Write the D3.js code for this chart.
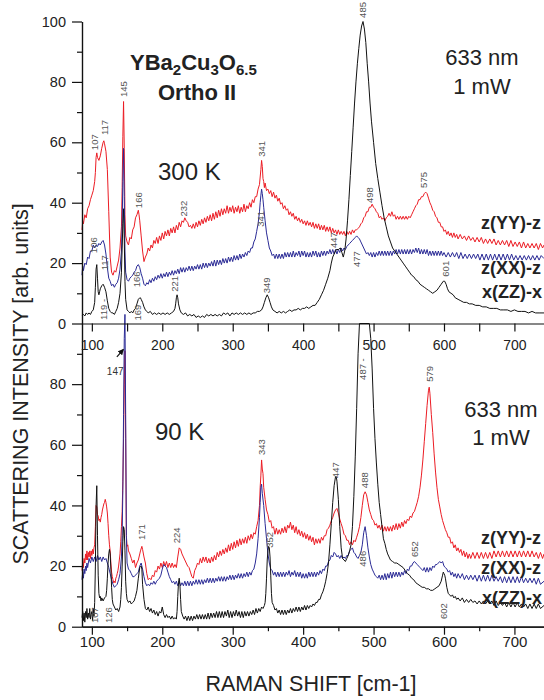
<!DOCTYPE html>
<html>
<head>
<meta charset="utf-8">
<script src="https://cdn.jsdelivr.net/npm/d3@7"></script>
<style>
  body { margin: 0; background: #fff; }
  svg { display: block; font-family: "Liberation Sans", Arial, sans-serif; }
</style>
</head>
<body>
<div id="chart"></div>
<script>
// ---- data: [raman shift cm-1, intensity] ----
// 300 K panel
const top300YY = [[86,31],[87,34],[88,33],[90,36],[92,35],[94,38],[96,39],[98,41],[100,42.5],[102,44],[104,47],[105,50],[106,55],[107,56.5],[108,55],[110,54],[112,55.5],[114,58],[116,60],[117,60.5],[118,59.5],[120,57],[122,51],[124,37],[126,22],[128,17],[130,16],[132,17.5],[134,17],[136,19],[138,21],[140,25],[142,32],[143,45],[144,62],[145,73.5],[146,58],[147,36],[148,29],[150,27],[152,26],[154,28.5],[156,28],[158,31],[160,32],[162,35],[164,36],[166,37.5],[167,36],[168,34],[170,29],[172,24],[174,20.5],[176,22],[178,23],[180,25],[182,24],[184,26],[186,25],[188,27.5],[190,26.5],[192,28.5],[194,26.5],[196,29],[198,27.5],[200,30],[202,28],[204,30.5],[206,29],[208,31],[210,29],[212,31.5],[214,30],[216,32],[218,30],[220,32.5],[222,31],[224,33.5],[226,32],[228,34],[230,33.5],[232,35],[234,34],[236,33.5],[238,32],[240,32.5],[242,31.5],[244,33],[246,31.5],[248,33.5],[250,32],[252,34],[254,32.5],[256,34.5],[258,33],[260,35],[262,33.5],[264,35.5],[266,34],[268,36],[270,34],[272,36.5],[274,34.5],[276,37],[278,35],[280,37.5],[282,35.5],[284,38],[286,36],[288,38],[290,36.5],[292,39],[294,36.5],[296,38.5],[298,37],[300,39],[302,36.5],[304,38.5],[306,37],[308,39],[310,36.5],[312,38.5],[314,37],[316,39.5],[318,37],[320,39],[322,38],[324,40],[326,38.5],[328,41],[330,40],[332,42],[334,42],[336,44.5],[338,46],[339,48.5],[340,51],[341,54],[342,52],[343,48],[344,47],[345,45],[346,46.5],[348,44],[350,44.5],[352,43],[354,44],[356,42],[358,43.5],[360,41.5],[362,42.5],[364,40.5],[366,41.5],[368,39.5],[370,40],[372,38],[374,39],[376,37.5],[378,38],[380,36],[382,37],[384,35.5],[386,36.5],[388,34.5],[390,35.5],[392,34],[394,35],[396,33.5],[398,34.5],[400,33],[402,34],[404,32.5],[406,34],[408,32.5],[410,33.5],[412,32],[414,33.5],[416,31.5],[418,33],[420,31.5],[422,33],[424,31],[426,32.5],[428,31],[430,32.5],[432,30.5],[434,32],[436,30.5],[438,32],[440,30],[442,31.5],[444,30],[446,31],[448,29.5],[450,31],[452,29.5],[454,30.5],[456,29.5],[458,30.5],[460,29],[462,30.5],[464,29.5],[466,30.5],[468,29.5],[470,31],[472,30],[474,31],[476,31],[478,31.5],[480,32],[482,33],[484,33.5],[486,35],[488,35.5],[490,37],[492,37],[494,38.5],[496,38.5],[498,39.5],[500,38.5],[502,38],[504,37],[506,36.5],[508,35],[510,35.5],[512,34.5],[514,35],[516,34],[518,35],[520,35.5],[522,36.5],[524,35.5],[526,37],[528,35.5],[530,36],[532,34.5],[534,35.5],[536,34.5],[538,35.5],[540,34.5],[542,35.5],[544,34.5],[546,35.5],[548,34.5],[550,35.5],[552,35],[554,36],[556,37],[558,38],[560,39],[562,39.5],[564,41],[566,41],[568,42],[570,42],[572,43],[574,43.5],[576,43],[578,41.5],[580,40],[582,39],[584,37.5],[586,37],[588,35.5],[590,35],[592,33.5],[594,33.5],[596,32],[598,32],[600,30.5],[602,31],[604,29.5],[606,30.5],[608,29],[610,30],[612,28.5],[614,30],[616,28.5],[618,29.5],[620,28],[623,29.5],[626,28],[629,29],[632,27.5],[635,29],[638,27.5],[641,28.5],[644,27],[647,28.5],[650,27],[653,28.5],[656,26.5],[659,28],[662,26.5],[665,28],[668,26.5],[671,28],[674,26],[677,27.5],[680,26],[683,27.5],[686,26],[689,27.5],[692,25.5],[695,27.5],[698,25.5],[701,27],[704,25.5],[707,27],[710,25],[713,27],[716,25],[719,26.5],[722,25],[725,26.5],[728,25],[731,26.5],[734,24.5],[737,26.5],[740,25],[742,26]];

const top300XX = [[86,16],[87,19],[88,17.5],[90,20],[92,19.5],[94,22],[96,21.5],[98,24],[100,24],[102,26],[104,25],[106,26],[108,25.5],[110,26.5],[112,26],[114,27],[116,27.5],[118,26],[120,23],[122,18.5],[124,15],[126,14],[128,12.5],[130,13],[132,12],[134,13],[136,13.5],[138,15],[140,18],[142,24],[143,33],[144,47],[145,58],[146,42],[147,24],[148,17],[150,14.5],[152,14],[154,15],[156,15.5],[158,16],[160,17],[162,17.5],[164,19],[166,19.5],[168,18.5],[170,16.5],[172,15],[174,13],[176,12.5],[178,13.5],[180,13],[182,14.5],[184,13.5],[186,15],[188,14],[190,15.5],[192,14.5],[194,16],[196,15],[198,16.5],[200,15],[202,16.5],[204,15.5],[206,17],[208,15.5],[210,17],[212,16],[214,17.5],[216,16],[218,17.5],[220,16.5],[222,18],[224,16.5],[226,18.5],[228,17],[230,18.5],[232,17],[234,18.5],[236,17.5],[238,19],[240,17.5],[242,19],[244,17.5],[246,19],[248,18],[250,19.5],[252,18],[254,19.5],[256,18],[258,20],[260,18.5],[262,20],[264,18.5],[266,20],[268,19],[270,20.5],[272,19],[274,21],[276,19],[278,21],[280,19.5],[282,21],[284,19.5],[286,21.5],[288,20],[290,21.5],[292,20],[294,22],[296,20.5],[298,22],[300,20.5],[302,22.5],[304,21],[306,22.5],[308,21],[310,23],[312,21.5],[314,23],[316,22],[318,23.5],[320,22.5],[322,24],[324,23.5],[326,25],[328,25],[330,27],[332,28],[334,30.5],[336,33],[338,37],[339,40],[340,42.5],[341,44.5],[342,43],[343,41],[344,38.5],[346,34],[348,30],[350,27.5],[352,25],[354,24],[356,22.5],[358,23],[360,21.5],[362,23],[364,21.5],[366,23],[368,21.5],[370,23],[372,21.5],[374,23.5],[376,22],[378,23.5],[380,22],[382,23.5],[384,22],[386,24],[388,22],[390,23.5],[392,22.5],[394,24],[396,22],[398,24],[400,22.5],[402,24],[404,22],[406,23.5],[408,22],[410,23.5],[412,22],[414,24],[416,22.5],[418,24],[420,22],[422,23.5],[424,22],[426,24],[428,22.5],[430,24],[432,22.5],[434,24],[436,23],[438,24.5],[440,23],[442,24.5],[444,23],[446,24.5],[448,23],[450,24.5],[452,23.5],[454,25],[456,24],[458,25],[460,24.5],[462,25.5],[464,26],[466,26.5],[468,27],[470,27.5],[472,28],[474,28.5],[476,29],[478,28.5],[480,28],[482,27],[484,26],[486,25],[488,24],[490,23],[492,23.5],[494,22.5],[496,23.5],[498,22],[500,23.5],[502,22],[504,23.5],[506,22.5],[508,24],[510,22.5],[512,24],[514,22.5],[516,24],[518,22.5],[520,24],[522,22.5],[524,24],[526,22.5],[528,24],[530,23],[532,24.5],[534,23],[536,24.5],[538,23],[540,24.5],[542,23],[544,24.5],[546,23],[548,24.5],[550,23],[552,24.5],[554,23],[556,24.5],[558,23.5],[560,25],[562,23.5],[564,25],[566,23],[568,24.5],[570,23],[572,24.5],[574,23],[576,24.5],[578,22.5],[580,24],[582,22.5],[584,24],[586,22.5],[588,24],[590,22.5],[592,24],[594,22.5],[596,24],[598,22.5],[600,23.5],[603,22],[606,23.5],[609,22],[612,23.5],[615,22],[618,23.5],[621,21.5],[624,23.5],[627,21.5],[630,23],[633,21.5],[636,23],[639,21.5],[642,23],[645,21.5],[648,23],[651,21],[654,23],[657,21],[660,23],[663,21],[666,23],[669,21],[672,23],[675,21],[678,23],[681,21],[684,23],[687,21],[690,23],[693,21],[696,23],[699,21],[702,22.5],[705,21],[708,22.5],[711,21],[714,22.5],[717,21],[720,22.5],[723,21],[726,22.5],[729,21],[732,22.5],[735,21],[738,22.5],[742,21.5]];

const top300ZZ = [[86,2.5],[88,3],[90,2.5],[92,3.5],[94,3],[96,3.5],[98,3],[100,4],[102,4.5],[104,7],[105,12],[106,18],[107,19.5],[108,15],[109,10.5],[110,9.5],[111,10.5],[112,11.5],[114,12.5],[116,13],[118,12],[120,10.5],[122,7.5],[124,5],[126,4],[128,3.5],[130,3.5],[132,3],[134,4],[136,5],[138,7],[140,10],[142,17],[143,25],[144,33],[145,38],[146,28],[147,14],[148,8],[150,4.5],[152,4],[154,3.5],[156,4],[158,3.5],[160,4.5],[162,5],[164,6.5],[166,8],[168,8.5],[169,8.5],[170,8],[172,7],[174,5.5],[176,4.5],[178,4],[180,3.5],[183,4],[186,3],[189,3.5],[192,3],[195,3.5],[198,3],[201,3.5],[204,3],[207,3.5],[210,3],[213,3.5],[216,4],[218,5],[219,6.5],[220,8.5],[221,9.5],[222,8.5],[223,6.5],[225,4.5],[227,3.5],[230,3],[233,3.5],[236,2.5],[239,3],[242,2.5],[245,3],[248,2],[251,2.5],[254,2],[257,2.5],[260,2],[263,3],[266,2.5],[269,3],[272,2.5],[275,3],[278,2.5],[281,3],[284,2.5],[287,3.5],[290,3],[293,3.5],[296,2.5],[299,3.5],[302,3],[305,3.5],[308,3],[311,3.5],[314,3],[317,3.5],[320,3],[323,3.5],[326,3],[329,3.5],[332,3.5],[335,4],[338,4],[341,4.5],[343,5.5],[345,7],[347,8.5],[349,9.5],[351,8.5],[353,7],[355,5.5],[357,4.5],[360,4],[363,3.5],[366,4],[369,3.5],[372,4],[375,3.5],[378,4],[381,4.5],[384,4],[387,4.5],[390,4.5],[393,5],[396,4.5],[399,5],[402,5],[405,5.5],[408,5],[411,5.5],[414,6],[417,6],[420,7],[423,8],[426,9.5],[429,11],[432,13],[435,15],[438,17.5],[440,20],[442,22],[444,23],[447,24.5],[450,24.5],[453,25],[455,23.5],[457,22],[459,24],[461,28],[463,34],[465,41],[467,49],[469,57],[471,65],[473,73],[475,80],[477,86],[479,91],[481,95.5],[483,98.5],[485,100],[487,97.5],[489,93],[491,86],[493,80],[495,73],[497,67],[500,60],[503,53],[506,48],[509,43.5],[512,39],[515,35],[518,32],[521,29],[524,27],[527,25],[530,24],[533,23],[536,22],[539,21],[542,20],[545,19],[548,18],[551,17],[554,16],[557,15.5],[560,14.5],[563,14],[566,13],[569,12.5],[572,12],[575,11.5],[578,11],[581,10.5],[584,10],[587,10.5],[590,11],[593,12],[596,13],[599,14],[601,14],[603,13],[605,11.5],[607,10.5],[610,10],[613,9.5],[616,8.5],[620,8],[624,7.5],[628,7],[632,7],[636,6.5],[640,6.5],[645,6],[650,6],[655,5.5],[660,5.5],[665,5],[670,5],[675,5],[680,4.5],[685,4.5],[690,4.5],[695,4],[700,4.5],[705,4],[710,4],[715,4],[720,3.5],[725,4],[730,3.5],[735,3.5],[742,3.5]];

// 90 K panel
const bot90YY = [[86,18.5],[87,21.5],[88,19.5],[89,22.5],[90,21],[91,24],[92,22],[93,25],[94,22],[95,24.5],[96,23],[97,25],[98,22.5],[99,25],[100,23.5],[101,25.5],[102,24],[103,26],[104,27],[105,33],[106,40],[107,39.5],[108,37],[109,36.5],[110,35],[111,35.5],[112,34.5],[113,36],[114,37],[115,38.5],[116,39.5],[117,40.5],[118,41],[119,42],[120,41],[121,39.5],[122,37.5],[123,34],[124,30],[125,27],[126,25],[127,21],[128,18],[129,16.5],[130,15.5],[131,14.5],[132,15],[133,14.5],[134,16],[135,16.5],[136,17.5],[137,18.5],[138,20],[139,22],[140,24],[141,28],[142,33],[143,38],[144,48],[145,62],[146,80],[147,91],[148,62],[149,30],[150,26.5],[151,27],[152,25],[154,24],[156,22.5],[158,21],[160,22],[162,19.5],[164,21],[166,22],[168,24],[169,25],[171,26.5],[172,25.5],[174,23],[176,21],[178,17.5],[180,15.5],[182,16],[184,15.5],[186,17],[188,16.5],[190,18.5],[192,18],[194,20],[196,19],[198,21],[200,19.5],[202,21.5],[204,20],[206,21.5],[208,19.5],[210,21],[212,19.5],[214,21],[216,19.5],[218,20.5],[220,19.5],[222,23],[224,26],[226,25.5],[228,24],[230,23],[232,22],[234,21],[236,20],[238,19.5],[240,18],[242,16.5],[244,16],[246,18.5],[248,19.5],[250,21],[252,20.5],[254,22.5],[256,21],[258,23],[260,21.5],[262,23],[264,21],[266,22.5],[268,21],[270,23],[272,21.5],[274,23.5],[276,22],[278,24.5],[280,23],[282,25],[284,23.5],[286,25.5],[288,24],[290,26],[292,24.5],[294,27],[296,25],[298,27.5],[300,25.5],[302,28],[304,26],[306,28.5],[308,26.5],[310,29],[312,27],[314,29],[316,27.5],[318,29.5],[320,27.5],[322,30],[324,28.5],[326,30.5],[328,29],[330,31],[332,30.5],[334,33],[336,35],[338,40],[339,46],[340,50],[341,55],[342,52],[343,50.5],[344,46],[346,42],[348,38.5],[350,37],[352,34.5],[354,35],[356,32.5],[358,33],[360,30.5],[362,32.5],[364,30.5],[366,32],[368,30.5],[370,32.5],[372,31],[374,33],[376,31],[378,33.5],[380,32.5],[382,34.5],[384,32],[386,33.5],[388,31],[390,33],[392,30.5],[394,32],[396,30],[398,31.5],[400,29.5],[402,31],[404,29],[406,30.5],[408,28.5],[410,30],[412,28],[414,29.5],[416,27],[418,29],[420,27.5],[422,29],[424,27.5],[426,29.5],[428,28.5],[430,30],[432,30],[434,32],[436,32.5],[438,33.5],[440,35],[442,36],[444,37.5],[446,38.5],[448,39],[450,37.5],[452,35.5],[454,34],[456,32.5],[458,30.5],[460,30],[462,28.5],[464,28.5],[466,27],[468,28],[470,27],[472,28.5],[474,28],[476,29.5],[478,31],[480,33],[482,36],[484,40],[486,43.5],[488,44.5],[490,43.5],[492,41],[494,38.5],[496,37],[498,35.5],[500,35],[502,33.5],[504,34],[506,32.5],[508,33.5],[510,32],[512,33.5],[514,31.5],[516,33],[518,31.5],[520,33],[522,31.5],[524,33],[526,31.5],[528,33.5],[530,32],[532,34],[534,32],[536,34],[538,32.5],[540,34.5],[542,33],[544,35],[546,34],[548,35.5],[550,35],[552,36.5],[554,36],[556,37.5],[558,38],[560,39.5],[562,41],[564,43],[566,46],[568,50],[570,55],[572,61],[574,67],[576,73],[578,78],[579,79],[580,77],[582,70],[584,64],[586,57],[588,51],[590,46],[592,42],[594,39.5],[596,37],[598,35],[600,33.5],[602,32],[604,31],[606,29.5],[608,29.5],[610,27.5],[612,28],[614,26],[616,27],[618,25],[620,26],[622,24.5],[624,25.5],[626,23.5],[628,25],[630,23],[632,24.5],[634,22.5],[636,24],[638,22.5],[641,24.5],[644,22.5],[647,24.5],[650,22.5],[653,24.5],[656,22.5],[659,24.5],[662,22.5],[665,24.5],[668,22.5],[671,25],[674,23],[677,25],[680,23],[683,25],[686,23],[689,25],[692,23],[695,25],[698,23],[701,25],[704,23],[707,25],[710,23],[713,25],[716,23],[719,25],[722,23],[725,25],[728,23],[731,24.5],[734,22.5],[737,24.5],[740,22.5],[742,24]];

const bot90XX = [[86,15.5],[87,18],[88,16],[89,19],[90,17.5],[91,20],[92,18.5],[93,21],[94,19.5],[96,22.5],[98,21],[100,23],[102,21.5],[104,23],[106,21.5],[108,23.5],[110,22],[112,23],[114,21.5],[116,23],[118,22],[120,22.5],[122,21],[124,19.5],[126,17.5],[128,15.5],[130,14],[132,13],[134,13.5],[136,14],[138,15.5],[140,17.5],[142,23],[143,30],[144,45],[145,70],[146,95],[147,103],[148,70],[149,30],[150,21],[152,19],[154,18.5],[156,17.5],[158,16.5],[160,16.5],[162,17],[164,17.5],[166,18],[168,20],[170,21],[172,19],[174,16.5],[176,14.5],[178,13.5],[180,14],[182,13.5],[184,14.5],[186,14],[188,15],[190,14],[192,15],[194,15.5],[196,16],[198,17],[200,19],[202,20.5],[204,20],[206,19.5],[208,18],[210,16.5],[212,15.5],[214,14.5],[216,15],[218,14],[220,15],[222,13.5],[224,15],[226,13.5],[228,14.5],[230,13.5],[232,15],[234,13.5],[236,15],[238,13.5],[240,15],[242,13.5],[244,15],[246,14],[248,15.5],[250,14],[252,15.5],[254,14],[256,15.5],[258,14],[260,15.5],[262,14.5],[264,16],[266,14.5],[268,16],[270,14.5],[272,16],[274,14.5],[276,16],[278,15],[280,16.5],[282,15],[284,16.5],[286,15],[288,16.5],[290,15],[292,16.5],[294,15.5],[296,17],[298,15.5],[300,17],[302,15.5],[304,17],[306,16],[308,17.5],[310,16],[312,17.5],[314,16],[316,17.5],[318,16.5],[320,18],[322,16.5],[324,18],[326,17],[328,18.5],[330,19],[332,21],[334,24],[336,29],[338,36],[339,41],[340,46],[341,47],[342,44],[344,40],[346,34],[348,29],[350,24],[352,21],[354,19],[356,18.5],[358,17],[360,18],[362,16.5],[364,18],[366,16.5],[368,18],[370,16.5],[372,18],[374,16.5],[376,18],[378,17],[380,18.5],[382,16.5],[384,18],[386,17],[388,18.5],[390,16.5],[392,18],[394,16.5],[396,18],[398,16],[400,17.5],[402,16],[404,17.5],[406,16],[408,18],[410,16.5],[412,18],[414,16.5],[416,18],[418,16.5],[420,18],[422,17],[424,18.5],[426,17.5],[428,19],[430,18.5],[432,20],[434,20],[436,21.5],[438,22],[440,23.5],[442,23],[444,24.5],[446,24],[448,23],[450,23.5],[452,22.5],[454,23.5],[456,22.5],[458,23],[460,22.5],[462,23.5],[464,23.5],[466,25],[468,25.5],[470,26],[472,24.5],[474,24],[476,23],[478,22.5],[480,23.5],[482,24.5],[484,27],[486,31],[488,33],[490,30],[492,26],[494,23],[496,20.5],[498,19],[500,18],[502,17],[504,16.5],[506,16],[508,17],[510,15.5],[512,17],[514,15.5],[516,17.5],[518,15.5],[520,17.5],[522,16],[524,18],[526,16],[528,18],[530,16.5],[532,18],[534,16.5],[536,18],[538,16.5],[540,18],[542,17],[544,18.5],[546,17.5],[548,19],[550,18.5],[552,20],[554,20],[556,21],[558,21.5],[560,21],[562,20.5],[564,20],[566,19.5],[568,19],[570,18.5],[572,19.5],[574,18],[576,19.5],[578,18],[580,19.5],[582,18.5],[584,20],[586,19.5],[588,20.5],[590,20.5],[592,21],[594,21.5],[596,21],[598,21.5],[600,20],[602,19.5],[604,19],[606,18],[608,18.5],[610,17],[612,18],[614,16.5],[616,17.5],[618,16],[620,17.5],[623,16],[626,17.5],[629,15.5],[632,17],[635,15.5],[638,17],[641,15.5],[644,17],[647,15],[650,17],[653,15],[656,17],[659,15],[662,17],[665,15],[668,17],[671,15],[674,16.5],[677,15],[680,16.5],[683,14.5],[686,16.5],[689,14.5],[692,16.5],[695,14.5],[698,16.5],[701,14.5],[704,16.5],[707,14.5],[710,16.5],[713,14.5],[716,16],[719,14.5],[722,16],[725,14.5],[728,16],[731,14],[734,16],[737,14],[742,15]];

const bot90ZZ = [[86,3],[87,5],[88,2],[89,4.5],[90,1.5],[91,5],[92,3],[93,6],[94,2.5],[95,4.5],[96,3],[97,6],[98,2.5],[99,4],[100,5],[101,2],[102,6],[103,3.5],[104,8],[105,20],[106,40],[107,46.5],[108,30],[109,17],[110,11],[111,9.5],[112,10],[113,8.5],[114,9.5],[116,8.5],[118,9.5],[120,10],[121,12],[122,16],[123,21],[124,24],[125,25.5],[126,24],[127,19],[128,13],[129,9],[130,7.5],[132,6.5],[134,5.5],[136,6],[138,5],[140,6.5],[141,9],[142,13],[143,20],[144,28],[145,33],[146,32],[147,25],[148,15],[149,11],[150,9],[152,8],[154,8.5],[156,7.5],[158,8],[160,8.5],[162,10],[164,12],[166,16],[168,19.5],[170,20],[171,19],[172,14],[174,9],[176,6],[178,5.5],[180,6.5],[182,5],[184,6],[186,4.5],[188,5.5],[190,4],[192,5],[194,3.5],[196,5],[198,4.5],[200,6.5],[202,4],[204,3],[206,4],[208,3],[210,3.5],[212,2.5],[214,3.5],[216,2.5],[218,3],[220,2.5],[221,5],[222,10],[223,14.5],[224,16],[225,14],[226,9],[227,5],[229,3.5],[231,2.5],[233,3.5],[235,2],[237,3.5],[239,2],[241,3.5],[243,2],[245,3.5],[247,2.5],[249,4],[251,2.5],[253,4],[255,2.5],[257,4],[259,2.5],[261,4],[263,2.5],[265,4.5],[267,2.5],[269,4.5],[271,3],[273,4.5],[275,3],[277,5],[279,3],[281,5],[283,3],[285,5],[287,3],[289,5],[291,3.5],[293,5.5],[295,3],[297,5],[299,3],[301,5],[303,3.5],[305,5.5],[307,3.5],[309,5],[311,3],[313,5],[315,3],[317,5],[319,3.5],[321,5],[323,3.5],[325,5],[327,4],[329,5.5],[331,4],[333,6],[335,4.5],[337,6],[339,5],[341,6.5],[343,6],[345,7],[346,8],[347,11],[348,16],[349,22],[350,25],[351,26.5],[352,26],[353,23],[354,17],[355,11],[356,8],[358,7],[360,5.5],[362,6],[364,4.5],[366,5.5],[368,4],[370,5.5],[372,4],[374,5.5],[376,4],[378,5.5],[380,4.5],[382,6],[384,4.5],[386,6],[388,5],[390,6.5],[392,5],[394,6.5],[396,5],[398,6.5],[400,5.5],[402,7],[404,5.5],[406,7],[408,6],[410,7],[412,6.5],[414,7.5],[416,7],[418,8],[420,8],[422,9],[424,9],[426,10.5],[428,11.5],[430,13],[432,15],[434,17.5],[436,21],[438,27],[440,34],[442,41],[444,46.5],[446,49.5],[447,49.5],[448,48],[450,42],[452,33],[454,26],[456,22.5],[458,22],[460,21.5],[462,22.5],[464,23.5],[466,25],[468,27],[470,33],[472,43],[474,56],[476,72],[478,90],[480,100],[494,100],[496,95],[498,85],[500,72],[502,62],[504,54],[506,47],[508,41],[510,37],[512,33],[514,29],[516,27.5],[518,25.5],[520,24],[522,23],[524,22],[527,21.5],[530,21],[533,21],[536,20.5],[539,20],[542,19.5],[545,18.5],[548,17.5],[551,17],[554,16],[557,15.5],[560,14.5],[563,14],[566,13.5],[569,13],[572,13],[575,12.5],[578,12.5],[581,12],[584,12],[587,12.5],[590,13],[593,13.5],[596,15],[598,17],[599,18],[600,17.5],[601,17],[602,16],[604,13],[606,11],[608,10.5],[610,10],[612,10.5],[614,9.5],[616,10],[618,9],[620,9.5],[623,8.5],[626,9.5],[629,8],[632,9],[635,8],[638,9],[641,8],[644,8.5],[647,7.5],[650,8.5],[653,7.5],[656,8.5],[659,7.5],[662,8.5],[665,7.5],[668,8.5],[671,7],[674,8.5],[677,7],[680,8],[683,7],[686,8],[689,6.5],[692,8],[695,6.5],[698,8],[701,6.5],[704,8],[707,6.5],[710,7.5],[713,6.5],[716,7.5],[719,6],[722,7.5],[725,6],[728,7.5],[731,6],[734,7.5],[737,6],[742,7]];

// peak labels: [raman shift, intensity at text start, label]
const topPeakLabels = [[104.7,57.4,'107'],[118,62.4,'117'],[145,75,'145'],[166,38.2,'166'],[230,35.4,'232'],[341.5,55.2,'341'],[102,23.3,'106'],[117.5,17.6,'117'],[339,32,'341'],[164,12,'166'],[116.5,1.2,'119 -'],[165,1,'169'],[218,10.5,'221'],[348.5,10,'349'],[444,25,'447'],[475.5,18.7,'477'],[495,39.9,'498'],[485,101.2,'485'],[571,44.9,'575'],[602,15.5,'601']];
const botPeakLabels = [[104.7,1.2,'107'],[123.6,1.2,'126'],[171,28.6,'171'],[220.7,27.5,'224'],[341.5,56.6,'343'],[352,26,'352'],[445.6,49,'447'],[487,45.7,'488'],[484.4,19.8,'486'],[484.4,81.4,'487 -'],[579.6,80.8,'579'],[559,23,'652'],[599,2.5,'602']];

// arrow to the 147 line (90 K): [x1, y1, x2, y2], label start [x, y]
const arrow147 = [135.5, 89, 144.9, 91.5];
const label147 = [121.3, 83, '147'];

// axis ticks
const xMajor = [100, 200, 300, 400, 500, 600, 700];
const xMinor = [150, 250, 350, 450, 550, 650];
const yMajorTop = [0, 20, 40, 60, 80, 100];
const yMajorBot = [0, 20, 40, 60, 80];
const yMinor = [10, 30, 50, 70, 90];

const seriesNames = ['z(YY)-z', 'z(XX)-z', 'x(ZZ)-x'];

// ---- layout ----
const W = 544, H = 700;
const red = '#ec1c24', blue = '#2b2b96', black = '#111';

const svg = d3.select('#chart').append('svg')
  .attr('width', W).attr('height', H);

const x = d3.scaleLinear().domain([86, 742]).range([82, 544]);
const yTop = d3.scaleLinear().domain([0, 100]).range([323.5, 21.5]);
const yBot = d3.scaleLinear().domain([0, 100]).range([626.7, 323.5]);

function drawLines(y, sets) {
  const line = d3.line().x(d => x(d[0])).y(d => y(d[1]));
  sets.forEach(([data, color]) => {
    svg.append('path')
      .datum(data)
      .attr('fill', 'none')
      .attr('stroke', color)
      .attr('stroke-width', 1)
      .attr('stroke-linejoin', 'round')
      .attr('d', line);
  });
}

function peakLabels(y, labels) {
  svg.append('g').selectAll('text')
    .data(labels)
    .join('text')
    .attr('transform', d => `translate(${x(d[0])},${y(d[1])}) rotate(-90)`)
    .attr('dy', '0.35em')
    .attr('font-size', '9.5px')
    .attr('fill', '#555')
    .text(d => d[2]);
}

function styleAxis(ax, size) {
  ax.select('.domain').attr('stroke', '#111').attr('stroke-width', 1.2);
  ax.selectAll('line').attr('stroke', '#111').attr('stroke-width', 1.2);
  ax.selectAll('text').attr('font-size', size).attr('fill', '#222')
    .attr('font-family', '"Liberation Sans", Arial, sans-serif');
}

// curves
drawLines(yTop, [[top300YY, red], [top300XX, blue], [top300ZZ, black]]);
drawLines(yBot, [[bot90YY, red], [bot90XX, blue], [bot90ZZ, black]]);

// y axes
[[yTop, yMajorTop], [yBot, yMajorBot]].forEach(([y, major]) => {
  svg.append('g').attr('transform', 'translate(82,0)')
    .call(d3.axisLeft(y).tickValues(yMinor).tickSize(5).tickFormat('').tickSizeOuter(0))
    .call(ax => styleAxis(ax, '14px'));
  svg.append('g').attr('transform', 'translate(82,0)')
    .call(d3.axisLeft(y).tickValues(major).tickSize(10).tickPadding(6).tickSizeOuter(0))
    .call(ax => styleAxis(ax, '14.5px'));
});

// x axis of the 300 K panel (shared border)
svg.append('g').attr('transform', `translate(0,${yTop(0)})`)
  .call(d3.axisBottom(x).tickValues(xMajor.concat(xMinor)).tickSize(8).tickPadding(9).tickSizeOuter(0)
    .tickFormat(d => d % 100 === 0 ? d : ''))
  .call(ax => styleAxis(ax, '14px'));

// x axis of the 90 K panel
svg.append('g').attr('transform', `translate(0,${yBot(0)})`)
  .call(d3.axisBottom(x).tickValues(xMinor).tickSize(4.5).tickFormat('').tickSizeOuter(0))
  .call(ax => styleAxis(ax, '15px'));
svg.append('g').attr('transform', `translate(0,${yBot(0)})`)
  .call(d3.axisBottom(x).tickValues(xMajor).tickSize(8).tickPadding(2).tickSizeOuter(0))
  .call(ax => styleAxis(ax, '15px'));

// peak labels
peakLabels(yTop, topPeakLabels);
peakLabels(yBot, botPeakLabels);

// 147 arrow
svg.append('defs').append('marker')
  .attr('id', 'ah').attr('viewBox', '0 0 10 10')
  .attr('refX', 9).attr('refY', 5)
  .attr('markerWidth', 5).attr('markerHeight', 5)
  .attr('orient', 'auto')
  .append('path').attr('d', 'M0,0L10,5L0,10z').attr('fill', '#111');
svg.append('line')
  .attr('x1', x(arrow147[0])).attr('y1', yBot(arrow147[1]))
  .attr('x2', x(arrow147[2])).attr('y2', yBot(arrow147[3]))
  .attr('stroke', '#111').attr('stroke-width', 1.2)
  .attr('marker-end', 'url(#ah)');
svg.append('text')
  .attr('x', x(label147[0])).attr('y', yBot(label147[1]))
  .attr('font-size', '10px').attr('fill', '#333')
  .text(label147[2]);

// compound title
const title = svg.append('text')
  .attr('x', 130).attr('y', 70)
  .attr('font-size', '22px').attr('font-weight', 'bold').attr('fill', '#222');
[['YBa', 0], ['2', 5], ['Cu', -5], ['3', 5], ['O', -5], ['6.5', 5]].forEach(([t, dy]) => {
  title.append('tspan').attr('dy', dy)
    .attr('font-size', dy > 0 ? '15px' : '22px')
    .text(t);
});
svg.append('text').attr('x', 158).attr('y', 100)
  .attr('font-size', '22px').attr('font-weight', 'bold').attr('fill', '#222')
  .text('Ortho II');

// temperatures and laser
const plain = (tx, ty, s, size, anchor) => svg.append('text')
  .attr('x', tx).attr('y', ty).attr('font-size', size)
  .attr('text-anchor', anchor || 'start').attr('fill', '#222').text(s);
plain(158, 180, '300 K', '24px');
plain(155, 440, '90 K', '24px');
plain(482, 65, '633 nm', '22px', 'middle');
plain(482, 94, '1 mW', '22px', 'middle');
plain(501, 417, '633 nm', '22px', 'middle');
plain(501, 445, '1 mW', '22px', 'middle');

// series names
const nameSpots = [
  [[481, 229], [481, 274], [482, 298]],
  [[481, 544], [481, 574], [482, 604]]
];
nameSpots.forEach(panel => panel.forEach((p, i) => {
  svg.append('text').attr('x', p[0]).attr('y', p[1])
    .attr('font-size', '18px').attr('font-weight', 'bold').attr('fill', '#222')
    .text(seriesNames[i]);
}));

// axis titles
svg.append('text')
  .attr('transform', 'translate(28,384) rotate(-90)')
  .attr('text-anchor', 'middle').attr('font-size', '21.5px').attr('fill', '#222')
  .text('SCATTERING INTENSITY [arb. units]');
svg.append('text')
  .attr('x', 311).attr('y', 691)
  .attr('text-anchor', 'middle').attr('font-size', '21.5px').attr('fill', '#222')
  .text('RAMAN SHIFT [cm-1]');
</script>
</body>
</html>
